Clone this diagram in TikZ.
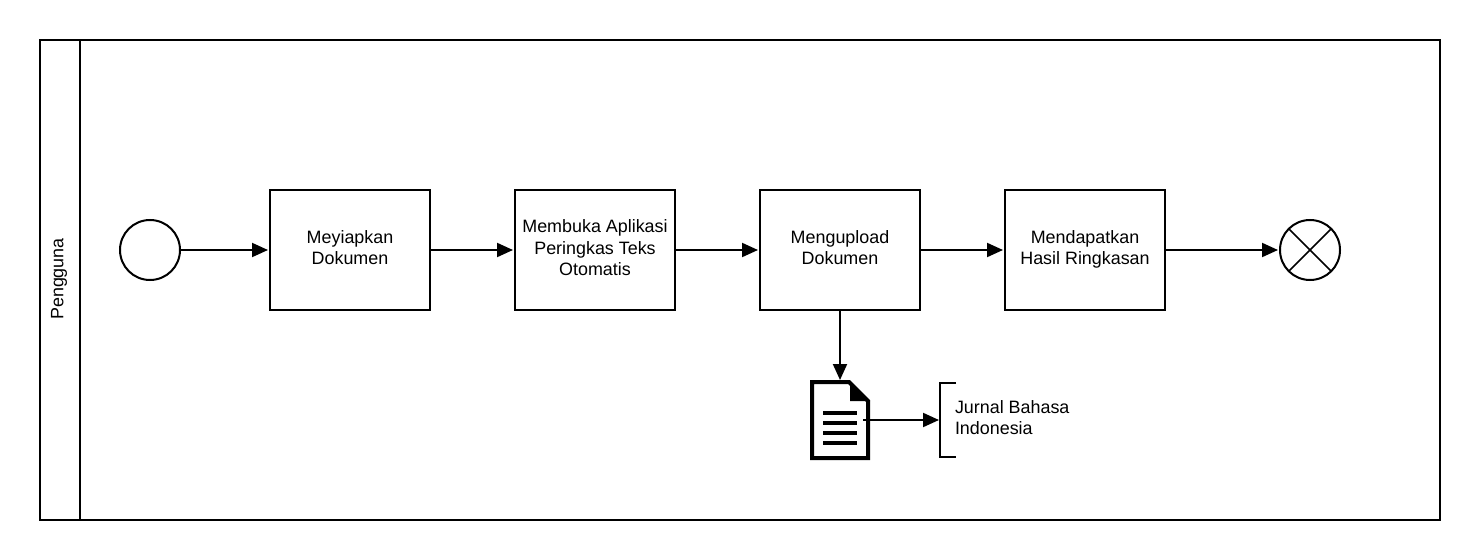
\documentclass[tikz,border=0pt]{standalone}
\usepackage{fontspec}
\setmainfont{Liberation Sans}
\usetikzlibrary{arrows.meta}
\tikzset{
  x=1bp,y=-1bp,
  every node/.style={inner sep=0pt,outer sep=0pt},
  ln/.style={draw=black,line width=2bp},
  task/.style={ln,fill=white,minimum width=160bp,minimum height=120bp,align=center,font=\fontsize{17.9bp}{21.3bp}\selectfont},
  evt/.style={ln,circle,fill=white,minimum size=60bp},
  flow/.style={draw=black,line width=2bp,-{Triangle[length=16bp,width=14bp]},shorten >=2bp},
  lab/.style={font=\fontsize{17.9bp}{21.3bp}\selectfont,align=left},
}
\begin{document}
\begin{tikzpicture}
\useasboundingbox (0,0) rectangle (1480,560);
\fill[white] (0,0) rectangle (1480,560);
\draw[ln] (40,40) rectangle (1440,520);
\draw[ln] (80,40) -- (80,520);
\node[lab,rotate=90] (pool) at (59,279) {Pengguna};
\node[evt] (start) at (150,250) {};
\node[evt] (end) at (1310,250) {};
\draw[line width=1.6bp] (end.north west) -- (end.south east);
\draw[line width=1.6bp] (end.north east) -- (end.south west);
\node[task] (t1) at (350,250) {\strut Meyiapkan\\\strut Dokumen};
\node[task] (t2) at (595,250) {\strut Membuka Aplikasi\\\strut Peringkas Teks\\\strut Otomatis};
\node[task] (t3) at (840,250) {\strut Mengupload\\\strut Dokumen};
\node[task] (t4) at (1085,250) {\strut Mendapatkan\\\strut Hasil Ringkasan};
\draw[flow] (start) -- (t1);
\draw[flow] (t1) -- (t2);
\draw[flow] (t2) -- (t3);
\draw[flow] (t3) -- (t4);
\draw[flow] (t4) -- (end);
% document icon
\coordinate (docout) at (863,420);
\node[minimum width=60bp,minimum height=80bp] (doc) at (840,420) {};
\draw[black,line width=4bp,miter limit=10,fill=white] (812,382) -- (849,382) -- (868,401) -- (868,458) -- (812,458) -- cycle;
\fill[black] (850,381) -- (870,401) -- (850,401) -- cycle;
\foreach \yy in {413,423,433,443} \fill[black] (823,\yy-2) rectangle (857,\yy+2);
\draw[flow,shorten >=0pt] (t3) -- (doc);
% annotation
\coordinate (ann) at (939,420);
\draw[ln] (956,383) -- (940,383) -- (940,457) -- (956,457);
\draw[flow,shorten >=0pt] (docout) -- (ann);
\node[lab,anchor=west] (note) at (955,419.5) {\strut Jurnal Bahasa\\\strut Indonesia};
\end{tikzpicture}
\end{document}
